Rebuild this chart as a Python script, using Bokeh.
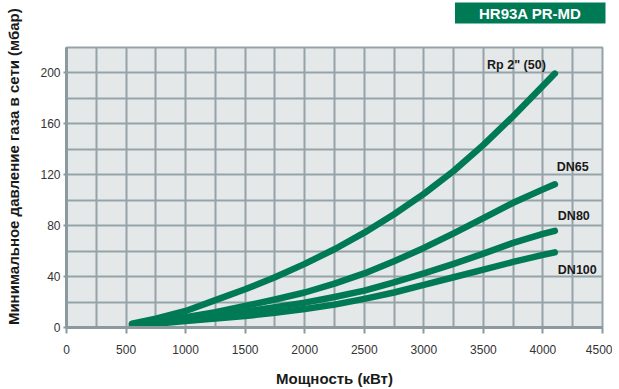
from bokeh.plotting import figure
from bokeh.models import Range1d, FixedTicker, Label, Title
from bokeh.embed import file_html
from bokeh.resources import INLINE

# ---- data ----
power_kw = [550, 750, 1000, 1250, 1500, 1750, 2000, 2250, 2500, 2750, 3000, 3250, 3500, 3750, 4000, 4100]
rp2_50 = [3, 7, 13, 21.5, 30, 39.5, 50, 61.5, 74.5, 89, 105, 123, 143.5, 166, 190, 199.5]
dn65 = [2.5, 4.5, 8, 12, 17, 22, 27.5, 34.5, 42.5, 52, 62.5, 74, 86, 98, 108.5, 112.5]
dn80 = [2, 4, 6.5, 9.5, 12.5, 16, 19.5, 24, 29, 35.5, 42.5, 50, 58, 66.5, 73.5, 76]
dn100 = [1, 3, 5, 7, 9, 11.5, 14.5, 18, 22.5, 27.5, 33.5, 39.5, 45.5, 51.5, 57, 59]

series_names = ['Rp 2" (50)', "DN65", "DN80", "DN100"]
series_values = [rp2_50, dn65, dn80, dn100]
label_pos = [(3531, 206), (4115, 126), (4125, 88), (4125, 45)]

x_major = [0, 500, 1000, 1500, 2000, 2500, 3000, 3500, 4000, 4500]
x_minor = [250, 750, 1250, 1750, 2250, 2750, 3250, 3750, 4250]
y_major = [0, 40, 80, 120, 160, 200]
y_minor = [20, 60, 100, 140, 180, 220]

title_text = "HR93A PR-MD"
x_title = "Мощность (кВт)"
y_title = "Минимальное давление газа в сети (мбар)"

GREEN = "#007a55"
GRID = "#95a3a8"
AXIS = "#8c9aa0"
TITLE_FONT = "Liberation Sans Narrow, Liberation Sans"

p = figure(width=612, height=389, output_backend="svg", toolbar_location=None,
           x_range=Range1d(0, 4500), y_range=Range1d(0, 220),
           min_border_left=66, min_border_right=10, min_border_top=47, min_border_bottom=61)

p.background_fill_color = "#e5e8e8"
p.border_fill_color = "white"
p.outline_line_color = GRID
p.outline_line_width = 2

p.xaxis.ticker = FixedTicker(ticks=x_major, minor_ticks=x_minor)
p.yaxis.ticker = FixedTicker(ticks=y_major, minor_ticks=y_minor)

for g in (p.xgrid, p.ygrid):
    g.grid_line_color = GRID
    g.grid_line_width = 2
    g.minor_grid_line_color = GRID
    g.minor_grid_line_width = 2

for ax in (p.xaxis, p.yaxis):
    ax.axis_line_color = AXIS
    ax.major_tick_line_color = AXIS
    ax.major_tick_line_width = 2
    ax.minor_tick_line_color = None
    ax.major_tick_in = 0
    ax.major_label_text_font = "Liberation Sans"
    ax.major_label_text_font_size = "12px"
    ax.major_label_text_color = "#333333"
    ax.axis_label_text_font = TITLE_FONT
    ax.axis_label_text_font_style = "bold"
    ax.axis_label_text_font_size = "15px"
    ax.axis_label_text_color = "#1a1a1a"

p.xaxis.axis_line_width = 3
p.xaxis.major_tick_out = 6
p.xaxis.major_label_standoff = 11
p.xaxis.axis_label = x_title
p.xaxis.axis_label_standoff = 13

p.yaxis.axis_line_width = 3
p.yaxis.major_tick_out = 3
p.yaxis.major_label_standoff = 2
# leading no-break spaces lift the rotated title as in the reference
p.yaxis.axis_label = "\u00a0" * 10 + y_title
p.yaxis.axis_label_standoff = 15

for vals in series_values:
    p.line(power_kw, vals, line_color=GREEN, line_width=6.5, line_cap="round", line_join="round")

for name, (lx, ly) in zip(series_names, label_pos):
    p.add_layout(Label(x=lx, y=ly, text=name, text_align="left", text_baseline="middle",
                       text_font="Liberation Sans", text_font_style="bold",
                       text_font_size="12.5px", text_color="#1a1a1a"))

# invisible spacer nearest the frame, then the badge above it
spacer = Title(text="\u00a0", text_font_size="2px", standoff=20, text_color="white")
p.add_layout(spacer, "above")
badge = Title(text=title_text, align="right", offset=-3, standoff=0,
              text_font="Liberation Sans", text_font_style="bold", text_font_size="15px",
              text_color="white", background_fill_color=GREEN, padding=(24, 2))
p.add_layout(badge, "above")

open("out.html", "w").write(file_html(p, INLINE))
